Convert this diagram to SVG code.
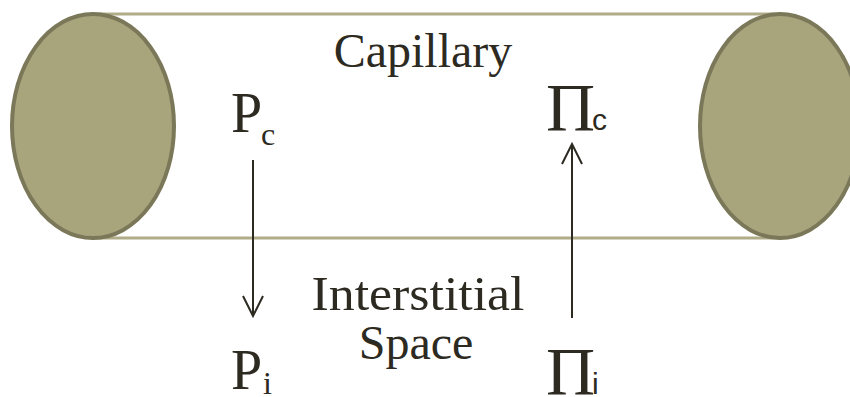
<svg xmlns="http://www.w3.org/2000/svg" width="850" height="397" viewBox="0 0 850 397">
<defs>
<style>
.cap{fill:#a8a47c;stroke:#7b7859;stroke-width:4}
.edge{stroke:#b0ac88;stroke-width:3;fill:none}
.t{font-family:"Liberation Serif","Times New Roman",serif;fill:#2d2a22}
.s{font-family:"Liberation Sans",Arial,sans-serif;fill:#2d2a22}
.arr{stroke:#2d2a22;stroke-width:2;fill:none}
</style>
<marker id="ah" viewBox="0 0 24 24" refX="22" refY="12" markerWidth="24" markerHeight="24" markerUnits="userSpaceOnUse" orient="auto">
<path d="M2,2 L22,12 L2,22" fill="none" stroke="#2d2a22" stroke-width="2"/>
</marker>
</defs>
<g id="tube">
<line class="edge" x1="93" y1="14" x2="780" y2="14"/>
<line class="edge" x1="93" y1="238" x2="780" y2="238"/>
</g>
<g id="left-end"><ellipse class="cap" cx="93" cy="126" rx="81" ry="112"/></g>
<g id="right-end"><ellipse class="cap" cx="780" cy="126" rx="80" ry="112"/></g>
<g id="capillary"><text class="t" x="423" y="67" font-size="48" text-anchor="middle">Capillary</text></g>
<g id="interstitial"><text class="t" x="418" y="310" font-size="48" text-anchor="middle" textLength="213" lengthAdjust="spacingAndGlyphs">Interstitial</text>
<text class="t" x="416" y="359" font-size="48" text-anchor="middle">Space</text></g>
<g id="Pc"><text class="t" x="231" y="132" font-size="56">P</text><text class="t" x="261" y="145" font-size="32">c</text></g>
<g id="Pic"><text class="t" x="546" y="130" font-size="68">Π</text><text class="s" x="592" y="130" font-size="30">c</text></g>
<g id="Pi"><text class="t" x="231" y="389" font-size="56">P</text><text class="t" x="263" y="394" font-size="32">i</text></g>
<g id="Pii"><text class="t" x="546" y="394" font-size="68">Π</text><text class="s" x="592" y="394" font-size="30">i</text></g>
<g id="connectors">
<line class="arr" x1="253" y1="160" x2="253" y2="316" marker-end="url(#ah)"/>
<line class="arr" x1="572" y1="318" x2="572" y2="144" marker-end="url(#ah)"/>
</g>
</svg>
